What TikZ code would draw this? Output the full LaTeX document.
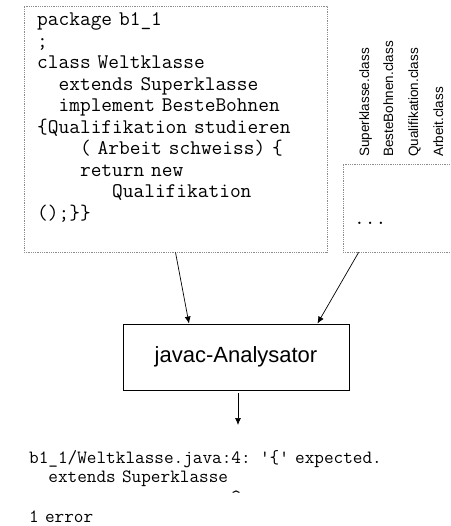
\documentclass[tikz,border=0pt]{standalone}
\usepackage{fontspec}
\setsansfont{Liberation Sans}
\usetikzlibrary{arrows.meta}
\begin{document}
\begin{tikzpicture}[x=1pt,y=1pt]

		\tikzstyle{codebox} = [rectangle, draw=black!45, densely dotted, line width=0.8pt, inner sep=0]
		
		\tikzstyle{listing} = [font=\ttfamily\fontsize{20.8}{21.5}\selectfont, align=left, text width=300pt, inner sep=0, anchor=base west]
		
		\tikzstyle{classname} = [font=\sffamily\fontsize{13.5}{15}\selectfont, rotate=90, anchor=base west, inner sep=0]
		
		\tikzstyle{analyser} = [rectangle, draw, line width=0.9pt, minimum width=226, minimum height=66, font=\sffamily\fontsize{22}{26}\selectfont]
		
		\tikzstyle{links} = [-{Latex[length=7pt,width=6pt]}, line width=0.7pt]
		
		\useasboundingbox (0,0) rectangle (450,-526);
		
		\node[codebox, minimum width=303, minimum height=246] at (175.5,-129) (source) {};
		\node[codebox, minimum width=112, minimum height=88] at (399,-208) (library) {};
		
		\node[listing] at (37,-26) (sourcetext) {package b1\_1\\
			;\\
			class Weltklasse\\
			\hphantom{xx}extends Superklasse\\
			\hphantom{xx}implement BesteBohnen\\
			\{Qualifikation studieren\\
			\hphantom{xxxx}( Arbeit schweiss) \{\\
			\hphantom{xxxx}return new\\
			\hphantom{xxxxxxx}Qualifikation\\
			();\}\}};
		
		\node[listing, text width=60pt] at (354,-225) (dots) {...};
		
		\node[classname] at (369,-157) (superklasse) {Superklasse.class};
		\node[classname] at (393,-157) (bestebohnen) {BesteBohnen.class};
		\node[classname] at (418,-157) (qualifikation) {Qualifikation.class};
		\node[classname] at (443,-157) (arbeit) {Arbeit.class};
		
		\node[analyser] at (236,-357) (analysator) {javac-Analysator};
		
		\coordinate (output) at (238,-425);
		
		\node[listing, font=\ttfamily\fontsize{18.7}{19.7}\selectfont, text width=410pt] at (29,-463) (message) {b1\_1/Weltklasse.java:4: \textquotesingle\{\textquotesingle{} expected.\\
			\hphantom{xx}extends Superklasse\\
			\hphantom{xxxxxxxxxxxxxxxxxxxxx}\textasciicircum\\
			1 error};
		
		\draw[links] (source.south) -- ([xshift=-47]analysator.north);
		\draw[links] ([xshift=16]library.south west) -- ([xshift=-32]analysator.north east);
		\draw[links] ([shift={(2,-3)}]analysator.south) -- (output);
	\end{tikzpicture}
\end{document}
